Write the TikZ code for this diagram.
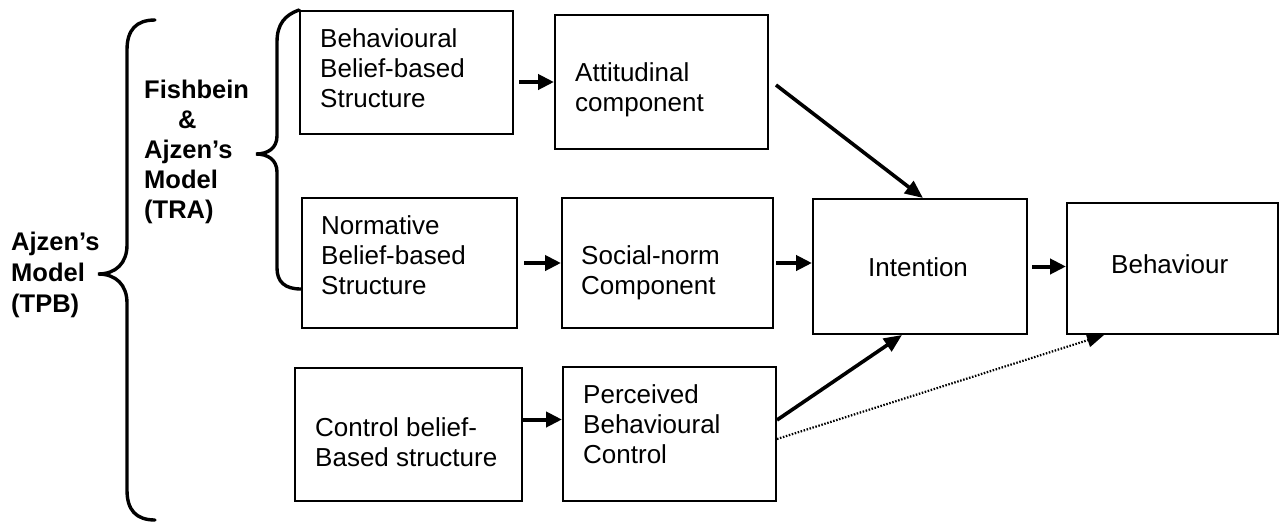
\documentclass[tikz,border=0pt]{standalone}
\usepackage{fontspec}
\setmainfont{Liberation Sans}
\usetikzlibrary{arrows.meta,fit}
\begin{document}
\begin{tikzpicture}[x=1pt,y=-1pt,
  box/.style={draw, line width=2pt, inner sep=0pt},
  txt/.style={inner sep=0pt, anchor=base west, align=left,
    font=\fontsize{26}{30}\selectfont},
  btxt/.style={inner sep=0pt, anchor=base west, align=left,
    font=\bfseries},
  arr/.style={line width=4pt, -{Triangle[length=16pt,width=15pt]}},
  darr/.style={line width=3.6pt, -{Triangle[length=18pt,width=15pt]}},
  dotarr/.style={line width=2.2pt, dash pattern=on 1.5pt off 1.6pt,
    -{Triangle[length=17pt,width=14pt]}},
  brace/.style={line width=3.4pt, line cap=round}]
\useasboundingbox (0,0) rectangle (1282,523);

% boxes
\node[box, fit={(300,11) (513,134)}]   (bbs) {};
\node[box, fit={(555,15) (768,149)}]   (att) {};
\node[box, fit={(302,198) (517,328)}]  (nbs) {};
\node[box, fit={(562,198) (773,328)}]  (soc) {};
\node[box, fit={(295,368) (522,501)}]  (cbs) {};
\node[box, fit={(563,367) (776,501)}]  (pbc) {};
\node[box, fit={(813,199) (1027,334)}] (int) {};
\node[box, fit={(1067,203) (1278,334)}] (beh) {};

% box texts (anchored at the baseline of their last line)
\node[txt] (bbs-t) at (320,107) {Behavioural\\Belief-based\\Structure};
\node[txt] (att-t) at (575,111) {Attitudinal\\component};
\node[txt] (nbs-t) at (321,294) {Normative\\Belief-based\\Structure};
\node[txt] (soc-t) at (581,294) {Social-norm\\Component};
\node[txt] (cbs-t) at (315,466) {Control belief-\\Based structure};
\node[txt] (pbc-t) at (583,463) {Perceived\\Behavioural\\Control};
\node[txt] (int-t) at (868,276) {Intention};
\node[txt] (beh-t) at (1111,273) {Behaviour};

% model labels
\node[btxt, font=\fontsize{25.5}{30}\selectfont\bfseries] (tra) at (144,218)
  {Fishbein\\\hspace*{34pt}\&\\Ajzen’s\\Model\\(TRA)};
\node[btxt, font=\fontsize{25.5}{31}\selectfont\bfseries] (tpb) at (11,312)
  {Ajzen’s\\Model\\(TPB)};

% braces
\draw[brace] (155,20) .. controls (136,20) and (127,30) .. (127,50)
  -- (127,245) .. controls (127,263) and (116,274) .. (98,274)
  .. controls (116,274) and (127,285) .. (127,303)
  -- (127,490) .. controls (127,510) and (136,520) .. (155,520);
\draw[brace] (bbs.north west) .. controls (285,15) and (277,24) .. (277,42)
  -- (277,136) .. controls (277,148) and (268,154) .. (256,154)
  .. controls (268,154) and (277,160) .. (277,172)
  -- (277,268) .. controls (277,282) and (285,289) .. (301,289);

% connectors
\draw[arr] ([xshift=5pt]bbs.east |- att.west) -- (att.west);
\draw[arr] ([xshift=6pt]nbs.east) -- (soc.west);
\draw[arr] ([xshift=2pt]soc.east) -- (soc.east -| int.west);
\draw[arr] ([xshift=4pt]int.east) -- (int.east -| beh.west);
\draw[arr] ([yshift=15pt]cbs.east) -- ([yshift=15pt]cbs.east -| pbc.west);
\draw[darr] ([xshift=7pt,yshift=-3pt]att.east) -- ([xshift=3pt]int.north);
\draw[darr] ([yshift=14pt]pbc.east) -- ([xshift=-18pt]int.south);
\draw[dotarr] ([yshift=-5pt]pbc.east) -- ([xshift=38pt]beh.south west);
\end{tikzpicture}
\end{document}
